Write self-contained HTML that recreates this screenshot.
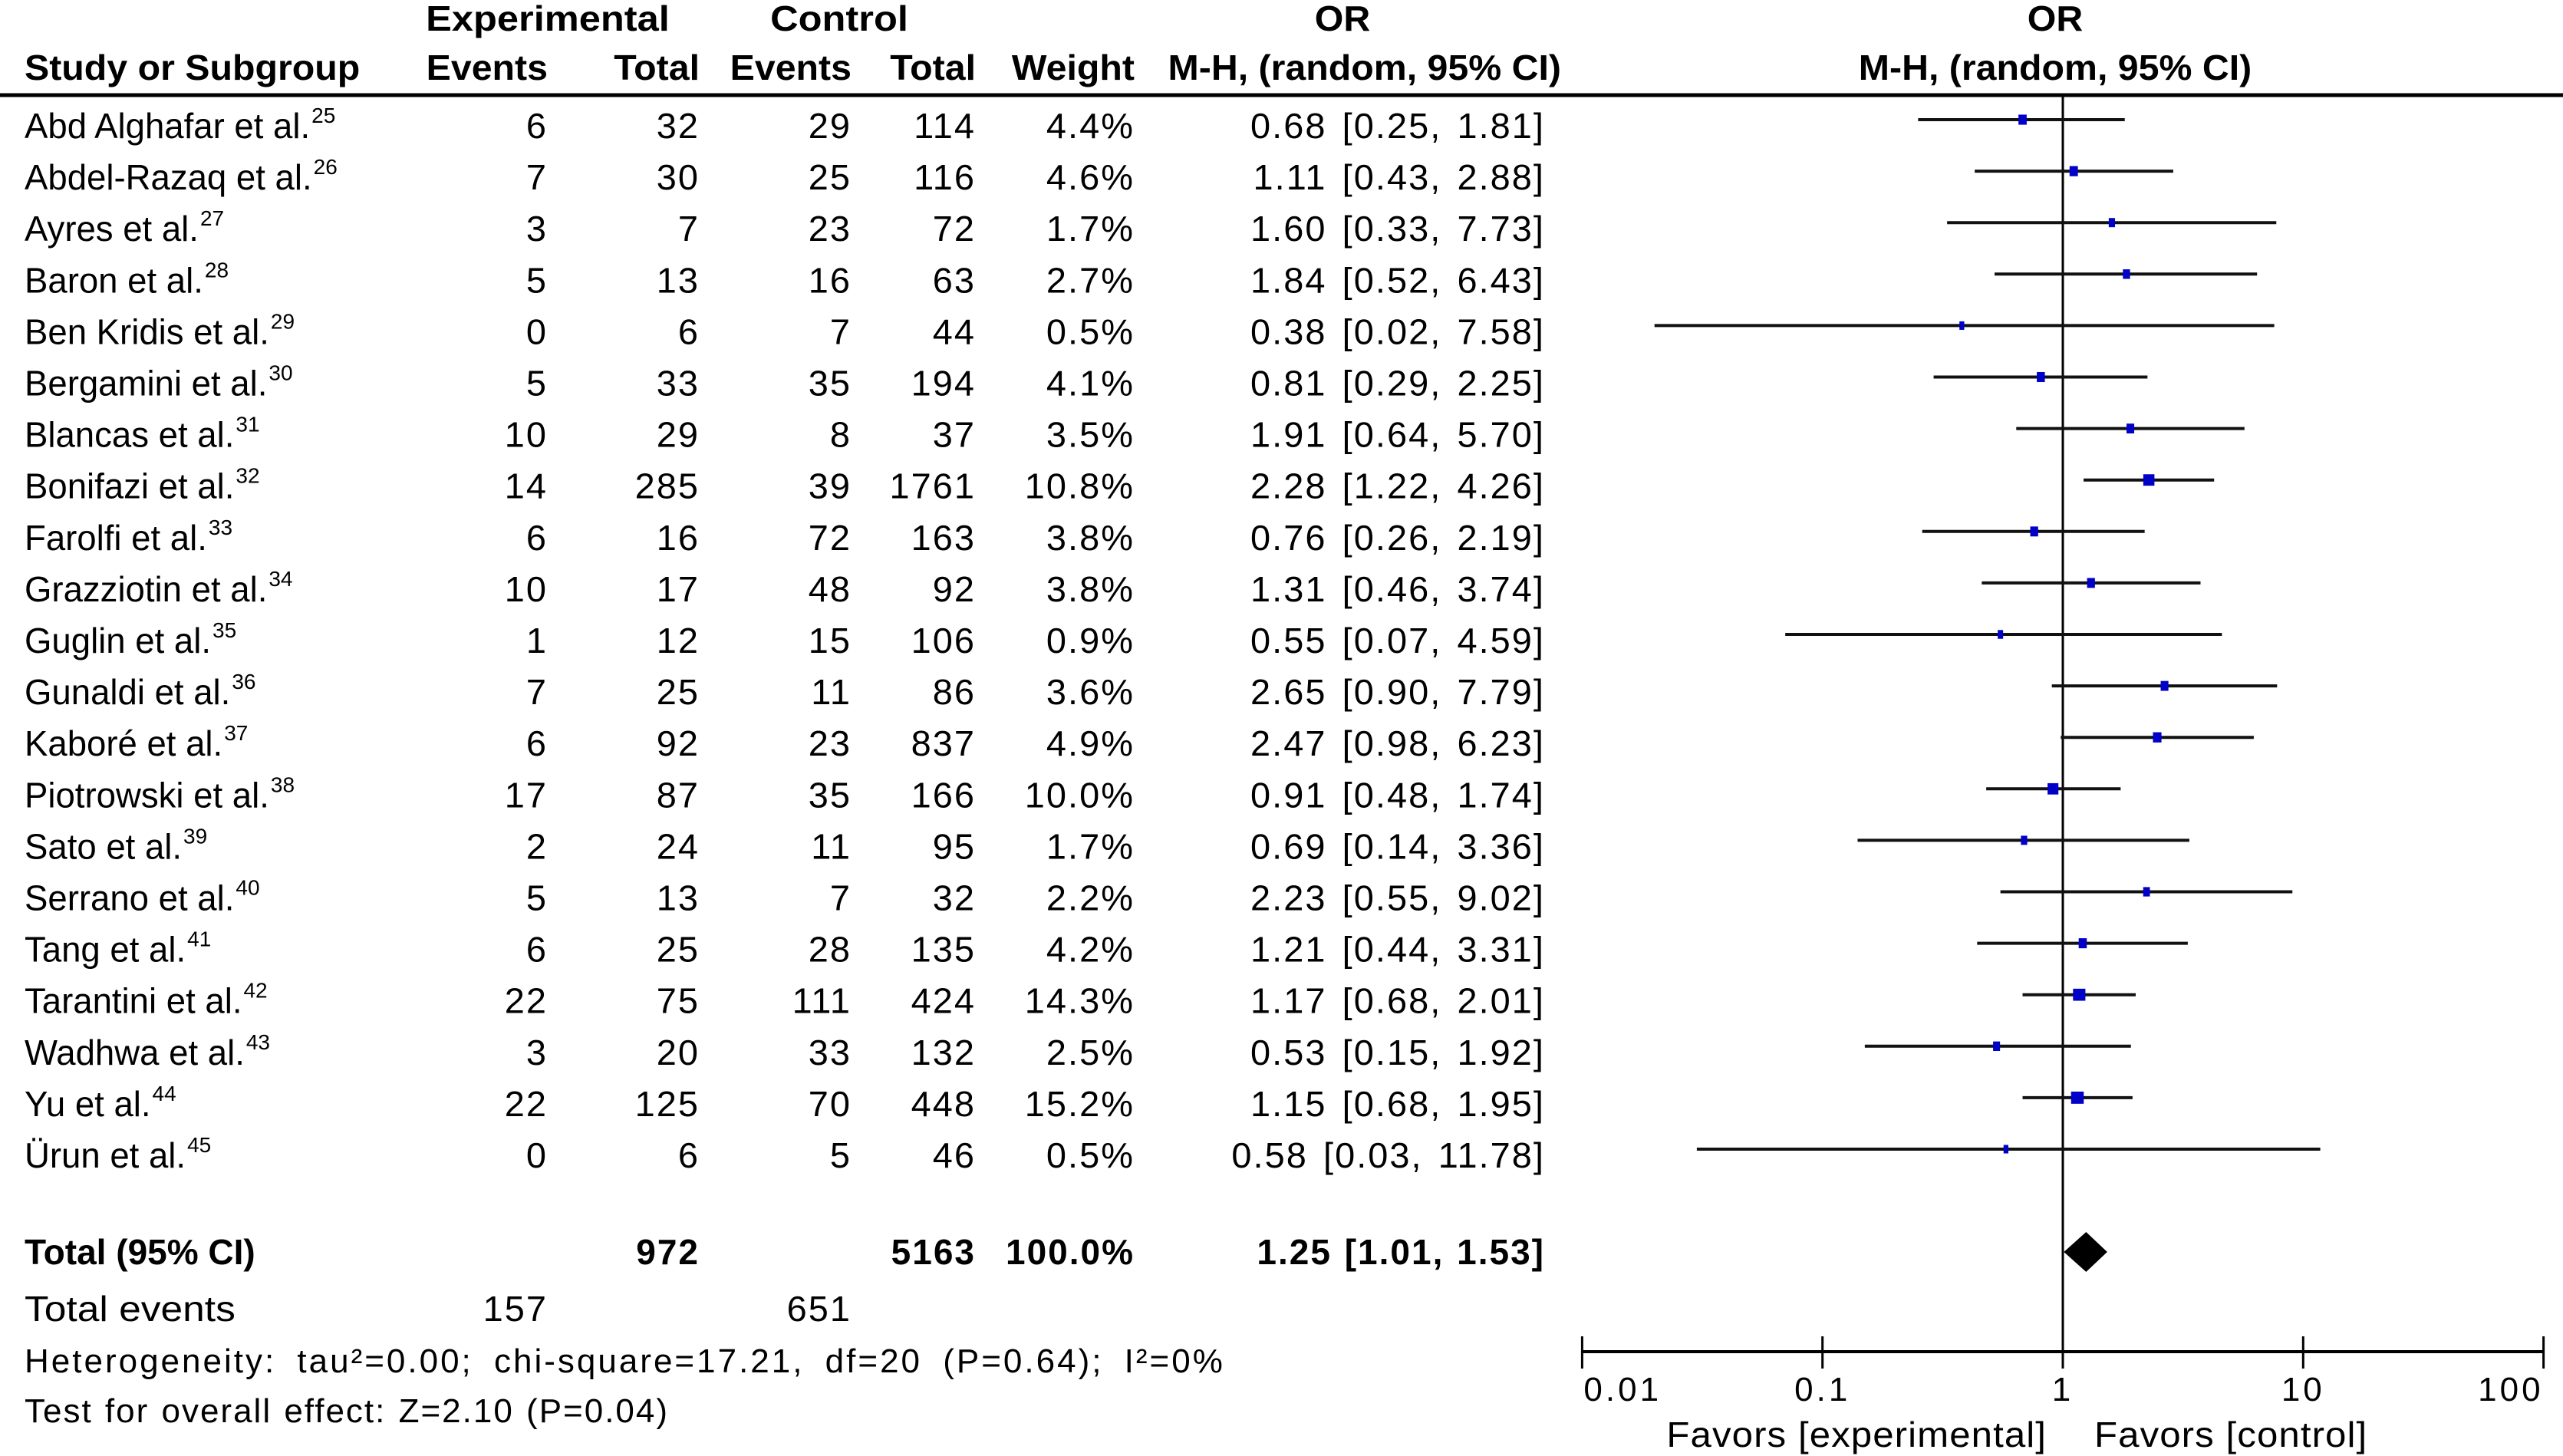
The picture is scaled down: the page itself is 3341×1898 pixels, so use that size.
<!DOCTYPE html>
<html><head><meta charset="utf-8"><style>
html,body{margin:0;padding:0;background:#fff}
svg{display:block}
text{font-family:"Liberation Sans",Arial,sans-serif;fill:#000}
</style></head><body>
<svg id="plot" width="3341" height="1898" viewBox="0 0 3341 1898" xmlns="http://www.w3.org/2000/svg"></svg>
<script>
const studies=["Abd Alghafar et al.","Abdel-Razaq et al.","Ayres et al.","Baron et al.","Ben Kridis et al.","Bergamini et al.","Blancas et al.","Bonifazi  et al.","Farolfi et al.","Grazziotin et al.","Guglin  et al.","Gunaldi et al.","Kaboré et al.","Piotrowski  et al.","Sato  et al.","Serrano  et al.","Tang et al.","Tarantini et al.","Wadhwa et al.","Yu et al.","Ürun et al."];
const refs=["25","26","27","28","29","30","31","32","33","34","35","36","37","38","39","40","41","42","43","44","45"];
const expEvents=[6,7,3,5,0,5,10,14,6,10,1,7,6,17,2,5,6,22,3,22,0];
const expTotal=[32,30,7,13,6,33,29,285,16,17,12,25,92,87,24,13,25,75,20,125,6];
const ctlEvents=[29,25,23,16,7,35,8,39,72,48,15,11,23,35,11,7,28,111,33,70,5];
const ctlTotal=[114,116,72,63,44,194,37,1761,163,92,106,86,837,166,95,32,135,424,132,448,46];
const weights=[4.4,4.6,1.7,2.7,0.5,4.1,3.5,10.8,3.8,3.8,0.9,3.6,4.9,10.0,1.7,2.2,4.2,14.3,2.5,15.2,0.5];
const orVal=[0.68,1.11,1.60,1.84,0.38,0.81,1.91,2.28,0.76,1.31,0.55,2.65,2.47,0.91,0.69,2.23,1.21,1.17,0.53,1.15,0.58];
const ciLow=[0.25,0.43,0.33,0.52,0.02,0.29,0.64,1.22,0.26,0.46,0.07,0.90,0.98,0.48,0.14,0.55,0.44,0.68,0.15,0.68,0.03];
const ciHigh=[1.81,2.88,7.73,6.43,7.58,2.25,5.70,4.26,2.19,3.74,4.59,7.79,6.23,1.74,3.36,9.02,3.31,2.01,1.92,1.95,11.78];
const totalOR=[1.25,1.01,1.53];
const tickVals=[0.01,0.1,1,10,100];
const tickLabels=["0.01","0.1","1","10","100"];

const svg=document.getElementById('plot');
const NS="http://www.w3.org/2000/svg";
function xs(v){return 2689+Math.log10(v)*313.3;}
function ys(i){return 164+i*67.1;}
function fmt(v){return v.toFixed(2);}
function txt(x,y,s,anchor,opt){
  opt=opt||{};
  const t=document.createElementNS(NS,'text');
  t.setAttribute('x',0);t.setAttribute('y',0);
  t.setAttribute('transform','translate('+x+','+y+') scale('+(opt.sx||1)+',1)');
  t.setAttribute('text-anchor',anchor||'start');
  t.setAttribute('font-size',opt.size||46);
  if(opt.bold)t.setAttribute('font-weight','bold');
  if(opt.fill)t.setAttribute('fill',opt.fill);
  if(opt.ws)t.setAttribute('word-spacing',opt.ws);
  if(opt.ls)t.setAttribute('letter-spacing',opt.ls);
  t.textContent=s;
  svg.appendChild(t);return t;
}
function line(x1,y1,x2,y2,w,c){
  const l=document.createElementNS(NS,'line');
  l.setAttribute('x1',x1);l.setAttribute('y1',y1);l.setAttribute('x2',x2);l.setAttribute('y2',y2);
  l.setAttribute('stroke',c||'#000');l.setAttribute('stroke-width',w);
  svg.appendChild(l);return l;
}
const HS=1.05;
let t;
t=txt(714,40,"Experimental","middle",{bold:true,fill:'#333',sx:1.1});


t=txt(1094,40,"Control","middle",{bold:true,fill:'#333',sx:1.1});


t=txt(1750,40,"OR","middle",{bold:true,sx:HS});


t=txt(2679,40,"OR","middle",{bold:true,sx:HS});


const hdr=[["Study or Subgroup",32,"start"],["Events",714,"end"],["Total",912,"end"],["Events",1110,"end"],["Total",1272,"end"],["Weight",1479,"end"],["M-H, (random, 95% CI)",2035,"end"],["M-H, (random, 95% CI)",2679,"middle"]];
hdr.forEach(h=>{t=txt(h[1],104,h[0],h[2],{bold:true,fill:'#333',sx:HS});

});
let l=line(0,124,3341,124,5);


l=line(2689,124,2689,1762,3);


studies.forEach((s,i)=>{
  const y=ys(i)+16;
  t=txt(32,y,s,"start",{sx:0.99});
  
  
  const w=t.getBBox().width*0.99;
  t=txt(32+w+2,y-20,refs[i],"start",{size:28});
  
  
  [[expEvents[i],714],[expTotal[i],912],[ctlEvents[i],1110],[ctlTotal[i],1272],[weights[i].toFixed(1)+"%",1479]].forEach(c=>{
    t=txt(c[1],y,String(c[0]),"end",{sx:1.02,ls:2});
    
    
  });
  t=txt(2014,y,fmt(orVal[i])+" ["+fmt(ciLow[i])+", "+fmt(ciHigh[i])+"]","end",{sx:1.02,ls:2,ws:5});
  
  
  const cy=ys(i)-8;
  l=line(xs(ciLow[i]),cy,xs(ciHigh[i]),cy,4,'#111');
  
  
  const sw=4+Math.sqrt(weights[i])*3.2, sh=10+Math.sqrt(weights[i])*1.5;
  const r=document.createElementNS(NS,'rect');
  r.setAttribute('x',xs(orVal[i])-sw/2);r.setAttribute('y',cy-sh/2);
  r.setAttribute('width',sw);r.setAttribute('height',sh);r.setAttribute('fill','#0000c8');
  
  
  svg.appendChild(r);
});
const ty=1648;
t=txt(32,ty,"Total (95% CI)","start",{bold:true,fill:'#333',sx:1.0});


[["972",912],["5163",1272],["100.0%",1479]].forEach(c=>{
  t=txt(c[1],ty,c[0],"end",{bold:true,fill:'#333',sx:1.0,ls:2});
  
  
});
t=txt(2014,ty,fmt(totalOR[0])+" ["+fmt(totalOR[1])+", "+fmt(totalOR[2])+"]","end",{bold:true,fill:'#333',sx:1.0,ls:2,ws:2});


const d=document.createElementNS(NS,'polygon');
const dy=1632;
d.setAttribute('points',xs(totalOR[1])+','+dy+' '+xs(totalOR[0])+','+(dy-26)+' '+xs(totalOR[2])+','+dy+' '+xs(totalOR[0])+','+(dy+26));
d.setAttribute('fill','#000');


svg.appendChild(d);
t=txt(32,1722,"Total events","start",{sx:1.12});


t=txt(714,1722,"157","end",{sx:1.02,ls:2});


t=txt(1110,1722,"651","end",{sx:1.02,ls:2});


t=txt(32,1789,"Heterogeneity: tau²=0.00; chi-square=17.21, df=20 (P=0.64); I²=0%","start",{size:44,sx:1.0,ls:3,ws:12});


t=txt(32,1854,"Test for overall effect: Z=2.10 (P=0.04)","start",{size:44,sx:1.0,ls:2,ws:2});


l=line(xs(tickVals[0]),1762,xs(tickVals[tickVals.length-1]),1762,4);


tickVals.forEach((v,i)=>{
  l=line(xs(v),1742,xs(v),1784,3);
  
  
  const anc=i===0?"start":(i===tickVals.length-1?"end":"middle");
  t=txt(xs(v)+(i===0?2:0),1826,tickLabels[i],anc,{size:44,ls:4});
  
  
});
t=txt(2668,1886,"Favors [experimental]","end",{size:46,sx:1.07,ls:1});


t=txt(2730,1886,"Favors [control]","start",{size:46,sx:1.07,ls:1});


</script>
</body></html>
